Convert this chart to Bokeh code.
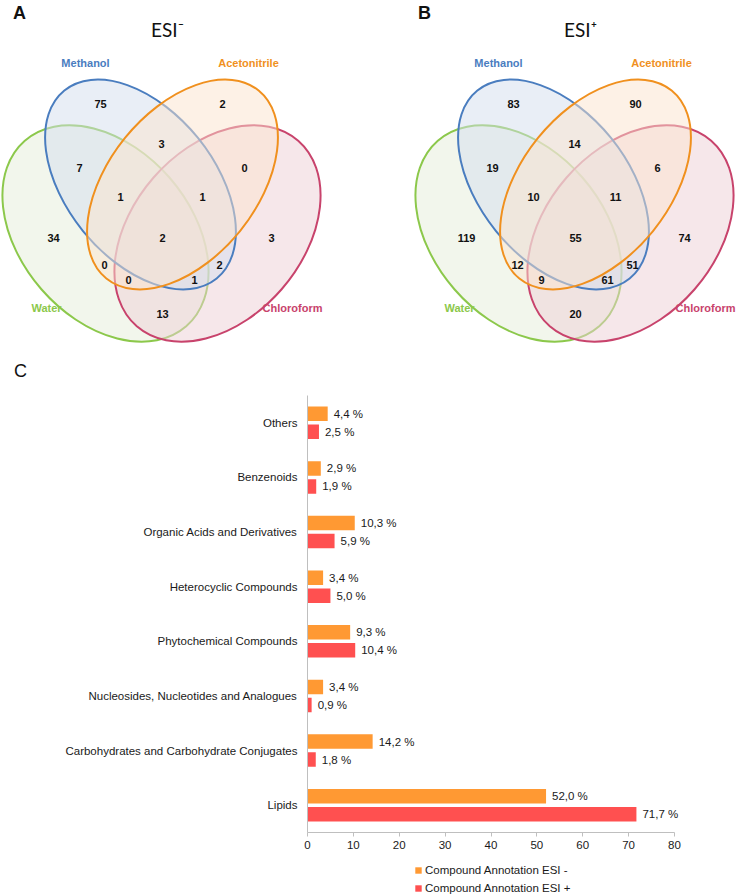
import math
from bokeh.plotting import figure
from bokeh.models import (Range1d, FactorRange, ColumnDataSource, Legend, LegendItem,
                          FixedTicker, LabelSet)
from bokeh.transform import dodge
from bokeh.core.properties import value
from bokeh.embed import file_html
from bokeh.resources import INLINE

# ---------------- data ----------------
panel_titles = ["ESI\u207b", "ESI\u207a"]
panel_letters = ["A", "B"]
set_names = ["Water", "Chloroform", "Methanol", "Acetonitrile"]
# regions: M, A, MA, WM, AC, WMA, MAC, W, WMAC, C, WA, MC, WAC, WMC, WC
region_keys = ["M", "A", "MA", "WM", "AC", "WMA", "MAC", "W", "WMAC", "C",
               "WA", "MC", "WAC", "WMC", "WC"]
esi_neg_counts = [75, 2, 3, 7, 0, 1, 1, 34, 2, 3, 0, 2, 0, 1, 13]
esi_pos_counts = [83, 90, 14, 19, 6, 10, 11, 119, 55, 74, 12, 51, 9, 61, 20]

categories = ["Others", "Benzenoids", "Organic Acids and Derivatives",
              "Heterocyclic Compounds", "Phytochemical Compounds",
              "Nucleosides, Nucleotides and Analogues",
              "Carbohydrates and Carbohydrate Conjugates", "Lipids"]
annot_esi_neg = [4.4, 2.9, 10.3, 3.4, 9.3, 3.4, 14.2, 52.0]
annot_esi_pos = [2.5, 1.9, 5.9, 5.0, 10.4, 0.9, 1.8, 71.7]
x_ticks = [0, 10, 20, 30, 40, 50, 60, 70, 80]
series_names = ["Compound Annotation ESI -", "Compound Annotation ESI +"]
series_colors = ["#ff9933", "#ff5050"]

# ---------------- layout / style ----------------
FONT = "Liberation Sans"
venn_axes = [161, 574]          # horizontal centre of each Venn (page px)
# name: (dx, y, major, minor, angle_deg, stroke, pale)
ellipse_layout = {
    "Water":        (-56, 233, 246, 170, -49, "#8cc84b", "#e5edd9"),
    "Chloroform":   (56, 233, 246, 170, 49, "#c8436c", "#edcfd5"),
    "Methanol":     (-21, 184, 242, 148, -51, "#4a7dbf", "#d3ddee"),
    "Acetonitrile": (21, 184, 242, 148, 51, "#f0901e", "#fbe3cd"),
}
set_label_layout = {
    "Methanol": (-76, 62), "Acetonitrile": (87, 62),
    "Water": (-115, 307), "Chloroform": (131, 307),
}
region_layout = {
    "M": (-61, 103), "A": (61, 103), "MA": (0, 143), "WM": (-82, 167),
    "AC": (83, 167), "WMA": (-41, 196), "MAC": (41, 196), "W": (-108, 237),
    "WMAC": (1, 237), "C": (110, 237), "WA": (-57, 264), "MC": (58, 264),
    "WAC": (-33, 279), "WMC": (33, 279), "WC": (1, 313),
}

PAGE_W = 740
TOP_H = 385
top = figure(width=PAGE_W, height=TOP_H, x_range=Range1d(0, PAGE_W),
             y_range=Range1d(-TOP_H, 0), x_axis_location=None,
             y_axis_location=None, toolbar_location=None, output_backend="svg",
             min_border=0, outline_line_color=None)
top.grid.visible = False

for vi, (cx, counts) in enumerate(zip(venn_axes, [esi_neg_counts, esi_pos_counts])):
    for name in set_names:
        dx, cy, maj, mnr, ang, stroke, pale = ellipse_layout[name]
        top.ellipse(x=[cx + dx], y=[-cy], width=[maj], height=[mnr],
                    angle=[math.radians(ang)], fill_color=pale, fill_alpha=0.5,
                    line_color=stroke, line_width=2)
    for name in set_names:
        lx, ly = set_label_layout[name]
        top.text(x=[cx + lx], y=[-ly], text=[name], text_align="center",
                 text_baseline="middle", text_font=value(FONT),
                 text_font_style="bold", text_font_size="11px",
                 text_color=ellipse_layout[name][5])
    top.text(x=[cx + rx for rx, ry in (region_layout[k] for k in region_keys)],
             y=[-ry for rx, ry in (region_layout[k] for k in region_keys)],
             text=[str(c) for c in counts], text_align="center",
             text_baseline="middle", text_font=value(FONT),
             text_font_style="bold", text_font_size="11px", text_color="#111111")
    top.text(x=[cx + 6], y=[-29], text=[panel_titles[vi]], text_align="center",
             text_baseline="middle", text_font=value("Lato"),
             text_font_size="19px", text_color="#111111")

top.text(x=[19, 424], y=[-12, -12], text=panel_letters, text_align="center",
         text_baseline="middle", text_font=value(FONT), text_font_style="bold",
         text_font_size="18px", text_color="#111111")
top.text(x=[20], y=[-370], text=["C"], text_align="center", text_baseline="middle",
         text_font=value(FONT), text_font_size="18px", text_color="#111111")

# ---------------- bar chart ----------------
def fmt(v):
    return f"{v:.1f}".replace(".", ",") + " %"

src = ColumnDataSource(dict(cat=categories, neg=annot_esi_neg, pos=annot_esi_pos,
                            neg_lbl=[fmt(v) for v in annot_esi_neg],
                            pos_lbl=[fmt(v) for v in annot_esi_pos]))

AXIS_W = 367                 # pixel length of the 0..80 axis
FRAME_W = 404                # a little room on the right for the value labels
X_MAX = x_ticks[-1]
BOTTOM = 30
bar = figure(frame_width=FRAME_W, frame_height=437,
             y_range=FactorRange(factors=categories[::-1]),
             x_range=Range1d(0, X_MAX * FRAME_W / AXIS_W), toolbar_location=None,
             output_backend="svg", min_border_left=307,
             min_border_right=PAGE_W - 307 - FRAME_W, min_border_top=10,
             min_border_bottom=BOTTOM, outline_line_color=None)
bar.grid.visible = False

OFF, BH = 0.165, 0.265
r1 = bar.hbar(y=dodge("cat", OFF, range=bar.y_range), left=0, right="neg", height=BH,
              fill_color=series_colors[0], line_color=None, source=src)
r2 = bar.hbar(y=dodge("cat", -OFF, range=bar.y_range), left=0, right="pos", height=BH,
              fill_color=series_colors[1], line_color=None, source=src)

for col, lbl, off in [("neg", "neg_lbl", OFF), ("pos", "pos_lbl", -OFF)]:
    bar.add_layout(LabelSet(x=col, y=dodge("cat", off, range=bar.y_range), text=lbl,
                            source=src, x_offset=6, text_baseline="middle",
                            text_font=value(FONT), text_font_size="11.5px",
                            text_color="#1a1a1a"))

bar.xaxis.ticker = FixedTicker(ticks=x_ticks)
bar.xaxis.bounds = (x_ticks[0], X_MAX)
bar.xaxis.axis_line_color = "#bfbfbf"
bar.xaxis.major_tick_line_color = "#bfbfbf"
bar.xaxis.major_tick_in = 0
bar.xaxis.major_tick_out = 4
bar.xaxis.minor_tick_line_color = None
bar.xaxis.major_label_standoff = 4
bar.xaxis.major_label_text_font = FONT
bar.xaxis.major_label_text_font_size = "11.5px"
bar.xaxis.major_label_text_color = "#1a1a1a"

bar.yaxis.axis_line_color = "#bfbfbf"
bar.yaxis.major_tick_line_color = None
bar.yaxis.minor_tick_line_color = None
bar.yaxis.major_label_standoff = 4
bar.yaxis.major_label_text_font = FONT
bar.yaxis.major_label_text_font_size = "11.5px"
bar.yaxis.major_label_text_color = "#1a1a1a"

# ---------------- legend strip (same series, drawn outside its visible range) ----------
LEG_H = 896 - (TOP_H + 10 + 437 + BOTTOM)
leg = figure(width=PAGE_W, height=LEG_H, x_range=Range1d(-2, -1),
             y_range=FactorRange(factors=categories[::-1]),
             x_axis_location=None, y_axis_location=None, toolbar_location=None,
             output_backend="svg", min_border=0, outline_line_color=None)
leg.grid.visible = False
lr = [leg.hbar(y="cat", left=0, right=col, height=BH, fill_color=c,
               line_color=None, source=src)
      for col, c in zip(["neg", "pos"], series_colors)]
legend = Legend(items=[LegendItem(label=n, renderers=[r]) for n, r in zip(series_names, lr)],
                location=(414, 2), orientation="vertical", glyph_width=8,
                glyph_height=8, label_standoff=3, label_text_font=FONT,
                label_text_font_size="11.5px", label_text_color="#1a1a1a",
                label_height=13, spacing=5, padding=0, margin=0,
                border_line_color=None, background_fill_alpha=0)
leg.add_layout(legend, "center")

open("out.html", "w").write(file_html([top, bar, leg], INLINE))
